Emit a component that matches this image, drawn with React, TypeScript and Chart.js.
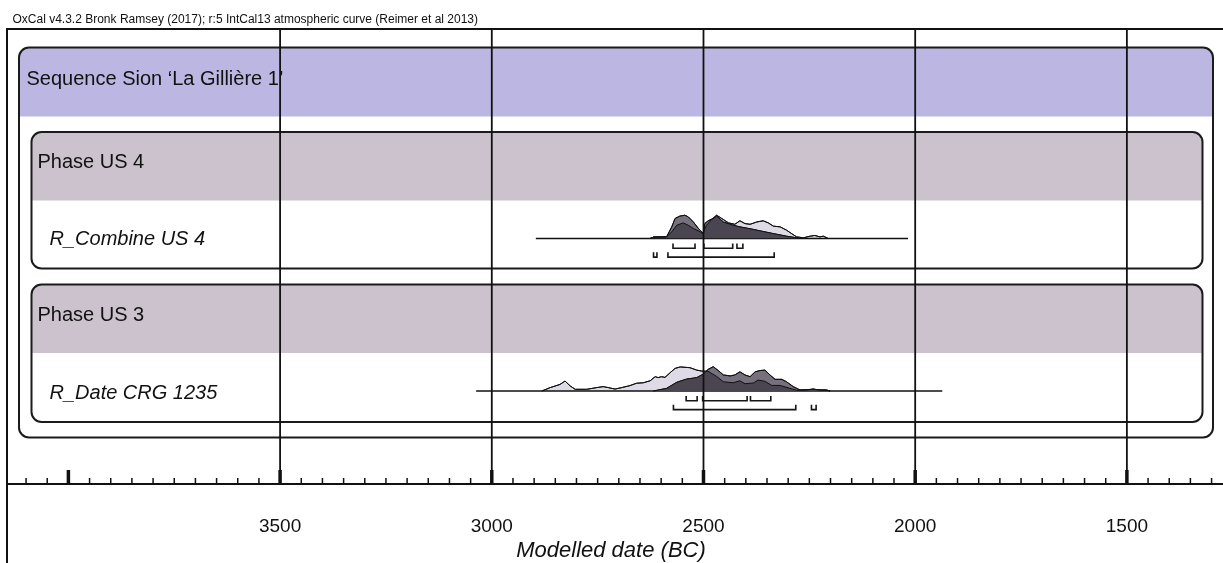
import { useEffect, useRef } from "react";
import { Chart, registerables } from "chart.js";

Chart.register(...registerables);

// ---------- text ----------
const HEADER = "OxCal v4.3.2 Bronk Ramsey (2017); r:5 IntCal13 atmospheric curve (Reimer et al 2013)";
const SEQUENCE_LABEL = "Sequence Sion \u2018La Gilli\u00e8re 1\u2019";
const PHASE_LABELS = ["Phase US 4", "Phase US 3"];
const DATE_LABELS = ["R_Combine US 4", "R_Date CRG 1235"];
const AXIS_TITLE = "Modelled date (BC)";

// ---------- axis ----------
const AXIS_MIN = 1273;
const AXIS_MAX = 4145;
const TICK_LABELS = [3500, 3000, 2500, 2000, 1500];
const MAJOR_TICKS = [4000, 3500, 3000, 2500, 2000, 1500];
const GRID_LINES = [3500, 3000, 2500, 2000, 1500];
const MINOR_TICK_FROM = 4100;
const MINOR_TICK_TO = 1300;
const MINOR_STEP = 50;

// ---------- R_Combine US 4 ----------
const US4_RANGE_LINE = [2896, 2017];
const US4_UNMOD_YEARS = [2626, 2618, 2587, 2575, 2563, 2548, 2536, 2524, 2508, 2502, 2493, 2481, 2469, 2457, 2441, 2426, 2414, 2402, 2390, 2374, 2359, 2347, 2335, 2319, 2304, 2292, 2280, 2264, 2248, 2237, 2225, 2217, 2205];
const US4_UNMOD_PROB = [0, 0.06, 0.07, 0.29, 0.57, 0.67, 0.57, 0.43, 0.29, 0.21, 0.57, 0.81, 1.0, 0.86, 0.67, 0.61, 0.76, 0.64, 0.61, 0.71, 0.76, 0.67, 0.53, 0.5, 0.36, 0.21, 0.07, 0.03, 0.1, 0.13, 0.07, 0.1, 0];
const US4_MOD_YEARS = [2626, 2618, 2587, 2575, 2567, 2556, 2544, 2536, 2524, 2512, 2504, 2500, 2497, 2489, 2477, 2469, 2453, 2430, 2414, 2382, 2367, 2335, 2304, 2280, 2272];
const US4_MOD_PROB = [0, 0.06, 0.07, 0.5, 0.86, 0.96, 1.0, 0.93, 0.71, 0.43, 0.29, 0.2, 0.64, 0.76, 0.86, 0.96, 0.71, 0.57, 0.5, 0.39, 0.33, 0.21, 0.1, 0.03, 0];
const US4_RANGES_68 = [[2572, 2520], [2499, 2431], [2421, 2407]];
const US4_RANGES_95 = [[2618, 2610], [2584, 2333]];

// ---------- R_Date CRG 1235 ----------
const US3_RANGE_LINE = [3037, 1936];
const US3_UNMOD_YEARS = [2882, 2862, 2839, 2827, 2815, 2803, 2776, 2752, 2737, 2725, 2709, 2693, 2674, 2658, 2642, 2626, 2614, 2607, 2599, 2591, 2579, 2567, 2555, 2532, 2516, 2504, 2489, 2469, 2453, 2430, 2414, 2402, 2382, 2371, 2355, 2339, 2319, 2296, 2280, 2256, 2241, 2225, 2209, 2201];
const US3_UNMOD_PROB = [0, 0.14, 0.27, 0.41, 0.21, 0.07, 0.07, 0.14, 0.18, 0.14, 0.08, 0.14, 0.22, 0.32, 0.34, 0.42, 0.59, 0.55, 0.59, 0.56, 0.75, 0.93, 0.99, 0.96, 0.86, 0.82, 0.81, 0.6, 0.38, 0.34, 0.42, 0.3, 0.33, 0.45, 0.4, 0.23, 0.23, 0.11, 0.03, 0.04, 0.07, 0.04, 0.03, 0];
const US3_MOD_YEARS = [2618, 2587, 2563, 2540, 2516, 2500, 2489, 2477, 2465, 2453, 2437, 2426, 2414, 2402, 2390, 2378, 2367, 2355, 2343, 2331, 2315, 2304, 2288, 2272, 2256, 2241, 2225, 2209, 2201];
const US3_MOD_PROB = [0, 0.11, 0.36, 0.49, 0.55, 0.7, 0.89, 1.0, 0.84, 0.66, 0.62, 0.66, 0.79, 0.66, 0.59, 0.79, 0.84, 0.86, 0.66, 0.48, 0.48, 0.38, 0.18, 0.04, 0.05, 0.08, 0.04, 0.04, 0];
const US3_RANGES_68 = [[2541, 2515], [2502, 2397], [2389, 2341]];
const US3_RANGES_95 = [[2571, 2282], [2245, 2234]];

// ---------- layout / style ----------
const W = 1223;
const H = 563;
const PLOT_LEFT = 7;
const PLOT_TOP = 29;
const PLOT_BOTTOM = 484;
const FONT = '"Liberation Sans", Arial, Helvetica, sans-serif';
const LIGHT_FILL = "#dedbe7";
const DARK_FILL = "#76717c";
const OVERLAP_FILL = "#4a4550";
const SEQ_FILL = "#bcb7e2";
const PHASE_FILL = "#cbc2cd";

const ROWS = [
  { axis: "yUS4", baseline: 238.5, peak: 23.3, unmodY: US4_UNMOD_YEARS, unmodP: US4_UNMOD_PROB, modY: US4_MOD_YEARS, modP: US4_MOD_PROB, line: US4_RANGE_LINE, r68: US4_RANGES_68, r95: US4_RANGES_95 },
  { axis: "yUS3", baseline: 391, peak: 24.3, unmodY: US3_UNMOD_YEARS, unmodP: US3_UNMOD_PROB, modY: US3_MOD_YEARS, modP: US3_MOD_PROB, line: US3_RANGE_LINE, r68: US3_RANGES_68, r95: US3_RANGES_95 },
];

const SEQ_BOX = { x1: 19, y1: 47.5, x2: 1213, y2: 437.5, band: 116.5, fill: SEQ_FILL };
const PHASE_BOXES = [
  { x1: 31.5, y1: 132, x2: 1202.5, y2: 268.5, band: 200.5, fill: PHASE_FILL, labelY: 167.5, dateY: 245 },
  { x1: 31.5, y1: 284.5, x2: 1202.5, y2: 422, band: 353, fill: PHASE_FILL, labelY: 321, dateY: 398.5 },
];

function roundRect(ctx: CanvasRenderingContext2D, x1: number, y1: number, x2: number, y2: number, r: number) {
  ctx.beginPath();
  ctx.moveTo(x1 + r, y1);
  ctx.lineTo(x2 - r, y1);
  ctx.arcTo(x2, y1, x2, y1 + r, r);
  ctx.lineTo(x2, y2 - r);
  ctx.arcTo(x2, y2, x2 - r, y2, r);
  ctx.lineTo(x1 + r, y2);
  ctx.arcTo(x1, y2, x1, y2 - r, r);
  ctx.lineTo(x1, y1 + r);
  ctx.arcTo(x1, y1, x1 + r, y1, r);
  ctx.closePath();
}

function drawBox(ctx: CanvasRenderingContext2D, b: any) {
  ctx.save();
  roundRect(ctx, b.x1, b.y1, b.x2, b.y2, 10);
  ctx.fillStyle = "#ffffff";
  ctx.fill();
  ctx.save();
  ctx.clip();
  ctx.fillStyle = b.fill;
  ctx.fillRect(b.x1, b.y1, b.x2 - b.x1, b.band - b.y1);
  ctx.restore();
  roundRect(ctx, b.x1, b.y1, b.x2, b.y2, 10);
  ctx.lineWidth = 2;
  ctx.strokeStyle = "#1b1b1b";
  ctx.stroke();
  ctx.restore();
}

function areaPath(ctx: CanvasRenderingContext2D, pts: any[], base: number) {
  ctx.beginPath();
  ctx.moveTo(pts[0].x, base);
  pts.forEach((p) => ctx.lineTo(p.x, p.y));
  ctx.lineTo(pts[pts.length - 1].x, base);
  ctx.closePath();
}

function outline(ctx: CanvasRenderingContext2D, pts: any[]) {
  ctx.beginPath();
  pts.forEach((p, i) => (i ? ctx.lineTo(p.x, p.y) : ctx.moveTo(p.x, p.y)));
  ctx.stroke();
}

function bracket(ctx: CanvasRenderingContext2D, xa: number, xb: number, y: number, h: number) {
  const l = Math.min(xa, xb);
  const r = Math.max(xa, xb, l + 2.5);
  ctx.beginPath();
  ctx.moveTo(l, y - h);
  ctx.lineTo(l, y);
  ctx.lineTo(r, y);
  ctx.lineTo(r, y - h);
  ctx.stroke();
}

const oxcalPlugin = {
  id: "oxcal",
  beforeDatasetsDraw(chart: any) {
    const ctx: CanvasRenderingContext2D = chart.ctx;
    drawBox(ctx, SEQ_BOX);
    PHASE_BOXES.forEach((b) => drawBox(ctx, b));
    ctx.save();
    ctx.fillStyle = "#111";
    ctx.textAlign = "left";
    ctx.textBaseline = "alphabetic";
    ctx.font = `20px ${FONT}`;
    ctx.fillText(SEQUENCE_LABEL, 26.5, 85);
    PHASE_BOXES.forEach((b, i) => {
      ctx.font = `20px ${FONT}`;
      ctx.fillText(PHASE_LABELS[i], 37.5, b.labelY);
      ctx.font = `italic 20px ${FONT}`;
      ctx.fillText(DATE_LABELS[i], 49.5, b.dateY);
    });
    ctx.restore();
  },
  afterDatasetsDraw(chart: any) {
    const ctx: CanvasRenderingContext2D = chart.ctx;
    const xs = chart.scales.x;
    const area = chart.chartArea;

    // overlap of modelled and unmodelled distributions + outlines + ranges
    ROWS.forEach((row, r) => {
      const light = chart.getDatasetMeta(r * 3).data;
      const dark = chart.getDatasetMeta(r * 3 + 1).data;
      const ys = chart.scales[row.axis];
      const base = ys.getPixelForValue(0);
      ctx.save();
      areaPath(ctx, light, base);
      ctx.clip();
      areaPath(ctx, dark, base);
      ctx.fillStyle = OVERLAP_FILL;
      ctx.fill();
      ctx.restore();
      ctx.save();
      ctx.strokeStyle = "#111";
      ctx.lineWidth = 1;
      outline(ctx, light);
      outline(ctx, dark);
      ctx.lineWidth = 1.6;
      ctx.strokeStyle = "#151515";
      row.r68.forEach(([a, b]) => bracket(ctx, xs.getPixelForValue(a), xs.getPixelForValue(b), base + 9.7, 4.8));
      row.r95.forEach(([a, b]) => bracket(ctx, xs.getPixelForValue(a), xs.getPixelForValue(b), base + 18.6, 4.8));
      ctx.restore();
    });

    ctx.save();
    ctx.strokeStyle = "#111";
    // grid lines
    ctx.lineWidth = 1.8;
    GRID_LINES.forEach((v) => {
      const x = xs.getPixelForValue(v);
      ctx.beginPath();
      ctx.moveTo(x, area.top);
      ctx.lineTo(x, area.bottom);
      ctx.stroke();
    });
    // frame
    ctx.lineWidth = 2;
    ctx.beginPath();
    ctx.moveTo(area.left, H + 5);
    ctx.lineTo(area.left, area.top);
    ctx.lineTo(W + 5, area.top);
    ctx.stroke();
    // axis line
    ctx.beginPath();
    ctx.moveTo(area.left, area.bottom);
    ctx.lineTo(W + 5, area.bottom);
    ctx.stroke();
    // minor ticks
    ctx.lineWidth = 1.5;
    for (let v = MINOR_TICK_FROM; v >= MINOR_TICK_TO; v -= MINOR_STEP) {
      if (MAJOR_TICKS.includes(v)) continue;
      const x = xs.getPixelForValue(v);
      ctx.beginPath();
      ctx.moveTo(x, area.bottom);
      ctx.lineTo(x, area.bottom - 6);
      ctx.stroke();
    }
    // major ticks
    ctx.lineWidth = 3.5;
    MAJOR_TICKS.forEach((v) => {
      const x = xs.getPixelForValue(v);
      ctx.beginPath();
      ctx.moveTo(x, area.bottom);
      ctx.lineTo(x, area.bottom - 14);
      ctx.stroke();
    });
    // tick labels
    ctx.fillStyle = "#111";
    ctx.textAlign = "center";
    ctx.textBaseline = "alphabetic";
    ctx.font = `19px ${FONT}`;
    TICK_LABELS.forEach((v) => ctx.fillText(String(v), xs.getPixelForValue(v), 532));
    // axis title
    ctx.font = `italic 22px ${FONT}`;
    ctx.fillText(AXIS_TITLE, 611, 557);
    // header
    ctx.textAlign = "left";
    ctx.font = `12px ${FONT}`;
    ctx.fillText(HEADER, 12.5, 22.5);
    ctx.restore();
  },
};

function rowAxis(baseline: number, peak: number) {
  const h = PLOT_BOTTOM - PLOT_TOP;
  const max = (baseline - PLOT_TOP) / peak;
  return { type: "linear", display: false, min: max - h / peak, max };
}

export default function App() {
  const ref = useRef<HTMLCanvasElement | null>(null);
  useEffect(() => {
    if (!ref.current) return;
    const datasets: any[] = [];
    ROWS.forEach((row) => {
      datasets.push({
        label: "unmodelled",
        data: row.unmodY.map((x, i) => ({ x, y: row.unmodP[i] })),
        yAxisID: row.axis,
        fill: "origin",
        backgroundColor: LIGHT_FILL,
        borderColor: "#111",
        borderWidth: 1,
        pointRadius: 0,
        tension: 0,
        order: 3,
      });
      datasets.push({
        label: "modelled",
        data: row.modY.map((x, i) => ({ x, y: row.modP[i] })),
        yAxisID: row.axis,
        fill: "origin",
        backgroundColor: DARK_FILL,
        borderColor: "#111",
        borderWidth: 1,
        pointRadius: 0,
        tension: 0,
        order: 2,
      });
      datasets.push({
        label: "range",
        data: row.line.map((x) => ({ x, y: 0 })),
        yAxisID: row.axis,
        fill: false,
        borderColor: "#111",
        borderWidth: 1.3,
        pointRadius: 0,
        order: 1,
      });
    });
    const scales: any = {
      x: { type: "linear", display: false, reverse: true, min: AXIS_MIN, max: AXIS_MAX },
    };
    ROWS.forEach((row) => {
      scales[row.axis] = rowAxis(row.baseline, row.peak);
    });
    const chart = new Chart(ref.current, {
      type: "line",
      data: { datasets },
      options: {
        responsive: false,
        animation: false,
        events: [],
        layout: { padding: { left: PLOT_LEFT, top: PLOT_TOP, right: 0, bottom: H - PLOT_BOTTOM } },
        scales,
        plugins: { legend: { display: false }, tooltip: { enabled: false } },
      } as any,
      plugins: [oxcalPlugin as any],
    });
    return () => chart.destroy();
  }, []);
  return (
    <div style={{ position: "absolute", left: 0, top: 0, width: W, height: H, overflow: "hidden", background: "#fff" }}>
      <canvas ref={ref} width={W} height={H} style={{ display: "block", width: W, height: H }} />
    </div>
  );
}
